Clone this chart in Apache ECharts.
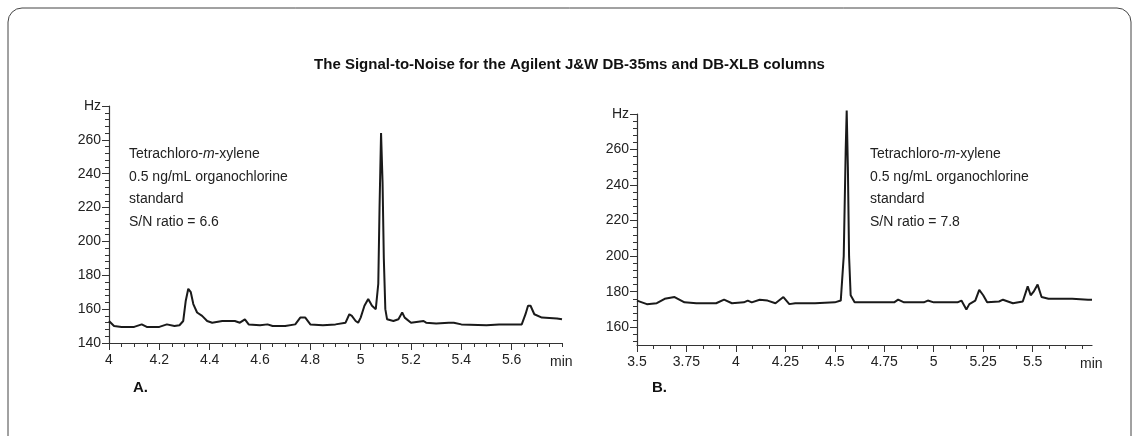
<!DOCTYPE html>
<html><head><meta charset="utf-8">
<script src="https://cdn.jsdelivr.net/npm/echarts@6/dist/echarts.min.js"></script>
<style>body{margin:0;background:#fff}#c{width:1139px;height:436px}</style>
</head><body><div id="c"></div>
<script>
// chromatogram A (DB-35ms) and B (DB-XLB), [min, Hz]
var traceA = [[4.00,153],[4.02,150],[4.05,149.5],[4.10,149.5],[4.13,151],[4.15,149.5],[4.20,149.5],[4.23,151],[4.26,150],[4.28,150.5],[4.295,153],[4.305,165],[4.315,172],[4.325,170],[4.335,163],[4.35,158],[4.37,156],[4.39,153],[4.41,152],[4.45,153],[4.50,153],[4.52,152],[4.54,154],[4.555,151],[4.60,150.5],[4.63,151],[4.65,150],[4.70,150],[4.74,151],[4.76,155],[4.78,155],[4.80,151],[4.85,150.5],[4.90,151],[4.94,152],[4.955,157],[4.965,156],[4.98,153],[4.99,152],[5.00,155],[5.015,162],[5.03,166],[5.045,162],[5.06,160],[5.07,175],[5.075,220],[5.081,264],[5.087,235],[5.092,190],[5.098,160],[5.105,154],[5.13,153],[5.15,154],[5.165,158],[5.175,155],[5.20,152],[5.25,153],[5.26,152],[5.30,151.5],[5.35,152],[5.37,152],[5.40,151],[5.50,150.5],[5.55,151],[5.64,151],[5.655,157],[5.665,162],[5.675,162],[5.69,157],[5.72,155],[5.78,154.5],[5.80,154]];
var traceB = [[3.50,175],[3.55,173],[3.60,173.5],[3.64,176],[3.69,177],[3.74,174],[3.80,173.5],[3.90,173.5],[3.94,175.5],[3.98,173.5],[4.04,174],[4.06,175],[4.08,174],[4.12,175.5],[4.16,175],[4.20,173.5],[4.24,177],[4.27,173],[4.30,173.5],[4.40,173.5],[4.50,174],[4.53,175],[4.545,200],[4.555,260],[4.56,282],[4.566,250],[4.572,200],[4.58,178],[4.60,174],[4.70,174],[4.80,174],[4.82,175.5],[4.85,174],[4.95,174],[4.97,175],[5.00,174],[5.12,174],[5.14,175],[5.165,170],[5.18,173],[5.21,175],[5.23,181],[5.25,178],[5.27,174],[5.33,174.5],[5.35,175.5],[5.40,173.5],[5.45,174.5],[5.475,183],[5.49,178],[5.505,180],[5.525,184],[5.545,177],[5.58,176],[5.70,176],[5.78,175.5],[5.80,175.5]];
var xTicksA = [4, 4.2, 4.4, 4.6, 4.8, 5, 5.2, 5.4, 5.6];
var xTicksB = [3.5, 3.75, 4, 4.25, 4.5, 4.75, 5, 5.25, 5.5];
var yTicksA = [140, 160, 180, 200, 220, 240, 260, 280];
var yTicksB = [160, 180, 200, 220, 240, 260, 280];

var font = '"Liberation Sans Narrow", "Liberation Sans", sans-serif';
function range(a, b, s) { var r = []; for (var v = a; v <= b + 1e-9; v += s) r.push(+v.toFixed(4)); return r; }
function yLab(v) { return v == 280 ? 'Hz' : String(v); }

function xAxes(grid, min, ticks, minor) {
  return [{
    type: 'value', gridIndex: grid, position: 'bottom', min: min, max: 5.8, splitLine: {show: false},
    name: 'min', nameLocation: 'end', nameGap: -12,
    nameTextStyle: {fontFamily: font, fontSize: 14, color: '#222', verticalAlign: 'top', padding: [12, 0, 0, 0]},
    axisLine: {lineStyle: {color: '#333', width: 1.2}},
    axisTick: {customValues: ticks, length: 7, lineStyle: {color: '#333'}},
    axisLabel: {customValues: ticks, fontFamily: font, fontSize: 14, color: '#222', margin: 10}
  }, {
    type: 'value', gridIndex: grid, position: 'bottom', min: min, max: 5.8, splitLine: {show: false},
    axisLine: {show: false}, axisLabel: {show: false},
    axisTick: {customValues: minor, length: 4, lineStyle: {color: '#333'}}
  }];
}
function yAxes(grid, min, ticks, minor) {
  return [{
    type: 'value', gridIndex: grid, position: 'left', min: min, max: 280, splitLine: {show: false},
    axisLine: {show: true, lineStyle: {color: '#333', width: 1.2}},
    axisTick: {show: true, customValues: ticks, length: 7, lineStyle: {color: '#333'}},
    axisLabel: {customValues: ticks, formatter: yLab, fontFamily: font, fontSize: 14, color: '#222', margin: 8}
  }, {
    type: 'value', gridIndex: grid, position: 'left', min: min, max: 280, splitLine: {show: false},
    axisLine: {show: false}, axisLabel: {show: false},
    axisTick: {show: true, customValues: minor, length: 4, lineStyle: {color: '#333'}}
  }];
}

var chart = echarts.init(document.getElementById('c'));
var noteA = ['Tetrachloro-{i|m}-xylene', '0.5 ng/mL organochlorine', 'standard', 'S/N ratio = 6.6'].join('\n');
var noteB = noteA.replace('6.6', '7.8');
var rich = {i: {fontStyle: 'italic', fontFamily: font, fontSize: 14, fill: '#222'}};
chart.setOption({
  animation: false,
  title: {text: 'The Signal-to-Noise for the Agilent J&W DB-35ms and DB-XLB columns', left: 'center', top: 52,
    textStyle: {fontFamily: font, fontSize: 15, fontWeight: 'bold', color: '#111'}},
  grid: [
    {left: 109, right: 577, top: 106, bottom: 93},
    {left: 637, right: 47, top: 114, bottom: 91}
  ],
  xAxis: xAxes(0, 4, xTicksA, range(4, 5.8, 0.05)).concat(xAxes(1, 3.5, xTicksB, range(3.5, 5.8, 0.25 / 3))),
  yAxis: yAxes(0, 140, yTicksA, range(140, 280, 4)).concat(yAxes(1, 150, yTicksB, range(152, 280, 4))),
  series: [
    {type: 'line', xAxisIndex: 0, yAxisIndex: 0, data: traceA, showSymbol: false, clip: false, lineStyle: {color: '#1a1a1a', width: 2}},
    {type: 'line', xAxisIndex: 2, yAxisIndex: 2, data: traceB, showSymbol: false, clip: false, lineStyle: {color: '#1a1a1a', width: 2}}
  ],
  graphic: [
    {type: 'rect', shape: {x: 8, y: 8, width: 1123, height: 470, r: 14}, style: {fill: 'none', stroke: '#444', lineWidth: 1}},
    {type: 'text', x: 129, y: 143, style: {text: noteA, font: '14px ' + font, fill: '#222', lineHeight: 22.5, rich: rich}},
    {type: 'text', x: 870, y: 143, style: {text: noteB, font: '14px ' + font, fill: '#222', lineHeight: 22.5, rich: rich}},
    {type: 'text', x: 133, y: 380, style: {text: 'A.', font: 'bold 15px ' + font, fill: '#111'}},
    {type: 'text', x: 652, y: 380, style: {text: 'B.', font: 'bold 15px ' + font, fill: '#111'}}
  ]
});
</script></body></html>
